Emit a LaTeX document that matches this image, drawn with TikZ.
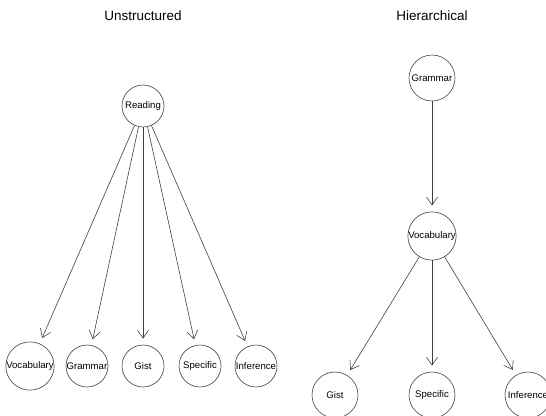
\documentclass[tikz,border=0pt]{standalone}
\usepackage{fontspec}
\setmainfont{Liberation Sans}
\usetikzlibrary{arrows.meta}
\tikzset{
	heading/.style={font=\fontsize{13.5}{16}\selectfont},
	topic/.style={circle, draw=black!75, line width=0.6pt, minimum size=42pt, inner sep=0pt, font=\fontsize{9.6}{11}\selectfont},
	bigtopic/.style={topic, minimum size=46pt},
	link/.style={draw=black!75, line width=0.6pt, -{Straight Barb[length=8pt,width=11pt]}, shorten >=6pt}
}
\begin{document}
\begin{tikzpicture}[x=1pt,y=-1pt]
			\clip (0,0) rectangle (546,415);
			% left: unstructured
			\node[heading] (tunstr) at (143,16) {Unstructured};
			\node[topic] (read) at (143,106) {Reading};
			\node[topic] (lvoc) at (30,366) {Vocabulary};
			\node[topic] (lgram) at (87,366) {Grammar};
			\node[topic] (lgist) at (143,366) {Gist};
			\node[topic] (lspec) at (200,366) {Specific};
			\node[topic] (linf) at (256,366) {Inference};
			\foreach \t in {lvoc,lgram,lgist,lspec,linf}
				\draw[link] (read) -- (\t);
			% right: hierarchical
			\node[heading] (thier) at (432,16) {Hierarchical};
			\node[bigtopic] (rgram) at (432,78) {Grammar};
			\node[bigtopic] (rvoc) at (432,236) {Vocabulary};
			\node[bigtopic] (rgist) at (335,395) {Gist};
			\node[bigtopic] (rspec) at (432,395) {Specific};
			\node[bigtopic] (rinf) at (528,395) {Inference};
			\draw[link] (rgram) -- (rvoc);
			\draw[link] (rvoc) -- (rgist);
			\draw[link] (rvoc) -- (rspec);
			\draw[link] (rvoc) -- (rinf);
		\end{tikzpicture}
\end{document}
